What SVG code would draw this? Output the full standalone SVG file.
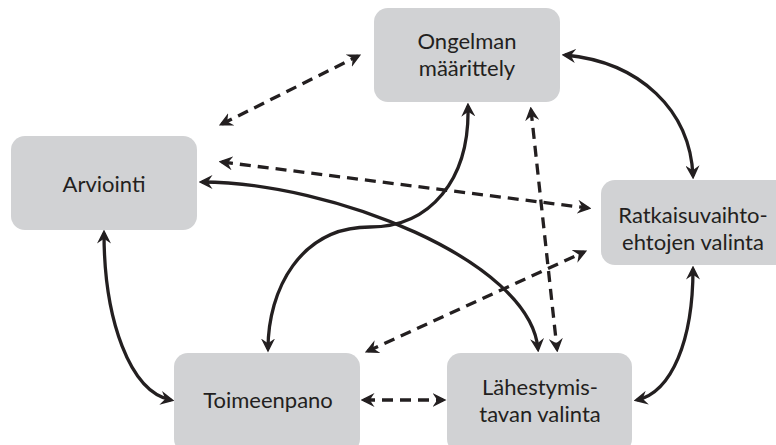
<svg xmlns="http://www.w3.org/2000/svg" width="776" height="445" viewBox="0 0 776 445">
<style>
.box{fill:#d1d2d4}
.lbl{font-family:Lato,"Liberation Sans",sans-serif;font-size:22px;fill:#231f20;text-anchor:middle}
.c{fill:none;stroke:#231f20;stroke-width:3.3}
.d{stroke-dasharray:11 7}
</style>
<defs>
<marker id="ah" viewBox="0 0 12 12" refX="9" refY="6" markerWidth="14" markerHeight="14" markerUnits="userSpaceOnUse" orient="auto-start-reverse">
<path d="M0,0 L12,6 L0,12 L4,6 z" fill="#231f20"/>
</marker>
</defs>
<rect width="776" height="445" fill="#fff"/>
<g id="connectors">
<path class="c" marker-start="url(#ah)" marker-end="url(#ah)" d="M565,55 C640,62 690,110 693,176"/>
<path class="c" marker-start="url(#ah)" marker-end="url(#ah)" d="M693,269 C693,340 672,392 637,400"/>
<path class="c" marker-start="url(#ah)" marker-end="url(#ah)" d="M104,233 C104,320 130,392 171,400"/>
<path class="c d" marker-start="url(#ah)" marker-end="url(#ah)" d="M364,400 L443,400"/>
<path class="c d" marker-start="url(#ah)" marker-end="url(#ah)" d="M222,124 L358,56"/>
<path class="c d" marker-start="url(#ah)" marker-end="url(#ah)" d="M222,162 L588,208"/>
<path class="c d" marker-start="url(#ah)" marker-end="url(#ah)" d="M368,351 L584,252"/>
<path class="c d" marker-start="url(#ah)" marker-end="url(#ah)" d="M531,110 L557,349"/>
<path class="c" marker-start="url(#ah)" marker-end="url(#ah)" d="M202,182 C330,182 530,260 538,349"/>
<path class="c" marker-start="url(#ah)" marker-end="url(#ah)" d="M468,106 C470,180 430,227 370,227 C300,227 268,290 268,349"/>
</g>
<g id="ongelman">
<rect class="box" x="374" y="8" width="186" height="94" rx="14"/>
<text class="lbl" x="467" y="49">Ongelman</text>
<text class="lbl" x="467" y="76">määrittely</text>
</g>
<g id="arviointi">
<rect class="box" x="11" y="136" width="186" height="94" rx="14"/>
<text class="lbl" x="104" y="192">Arviointi</text>
</g>
<g id="ratkaisu">
<rect class="box" x="601" y="180" width="190" height="85" rx="14"/>
<text class="lbl" x="693" y="223">Ratkaisuvaihto-</text>
<text class="lbl" x="693" y="250">ehtojen valinta</text>
</g>
<g id="toimeenpano">
<rect class="box" x="174" y="353" width="186" height="100" rx="14"/>
<text class="lbl" x="268" y="408">Toimeenpano</text>
</g>
<g id="lahestymis">
<rect class="box" x="447" y="353" width="185" height="100" rx="14"/>
<text class="lbl" x="540" y="395">Lähestymis-</text>
<text class="lbl" x="540" y="422">tavan valinta</text>
</g>
</svg>
